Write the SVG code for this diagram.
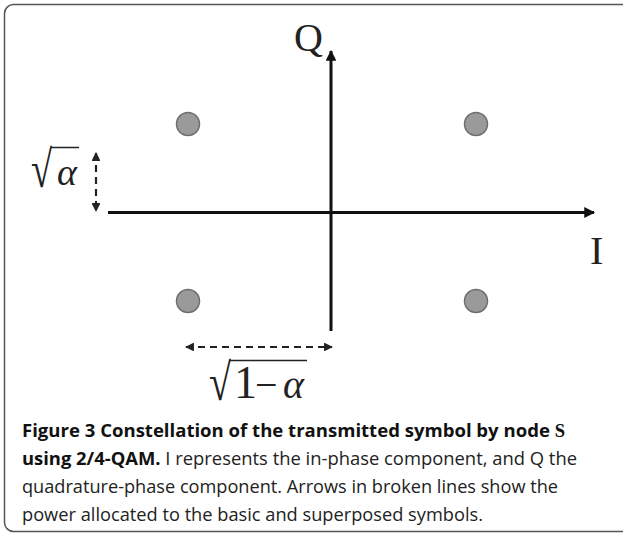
<svg xmlns="http://www.w3.org/2000/svg" width="623" height="537" viewBox="0 0 623 537">
<style>
.axis{stroke:#111;stroke-width:3;fill:none}
.dash{stroke:#222;stroke-width:2.2;stroke-dasharray:7 5;fill:none}
.dot{fill:#9a9a9a;stroke:#6e6e6e;stroke-width:1.5}
.serif{font-family:"Liberation Serif","Times New Roman",serif;fill:#222}
.cap{font-family:"Open Sans","Noto Sans",sans-serif;font-size:18px;fill:#222}
.b{font-weight:bold;fill:#111}
.sS{font-family:"Liberation Serif",serif;font-weight:bold}
</style>
<defs>
<marker id="ah" viewBox="0 0 10 10" refX="9" refY="5" markerWidth="4" markerHeight="3.6" orient="auto" markerUnits="strokeWidth"><path d="M0,0L10,5L0,10z" fill="#111"/></marker>
<marker id="sh" viewBox="0 0 10 10" refX="9" refY="5" markerWidth="4" markerHeight="4" orient="auto-start-reverse" markerUnits="strokeWidth"><path d="M0,0L10,5L0,10z" fill="#222"/></marker>
</defs>
<rect x="4.5" y="4.5" width="640" height="527" rx="9" fill="#fff" stroke="#555" stroke-width="1.5"/>
<g id="connectors">
<line class="axis" x1="331" y1="331" x2="331" y2="51" marker-end="url(#ah)"/>
<line class="axis" x1="108" y1="212.5" x2="594" y2="212.5" marker-end="url(#ah)"/>
<line class="dash" x1="96" y1="153" x2="96" y2="211" marker-start="url(#sh)" marker-end="url(#sh)"/>
<line class="dash" x1="186" y1="347" x2="332" y2="347" marker-start="url(#sh)" marker-end="url(#sh)"/>
</g>
<g id="dot-tl"><circle class="dot" cx="188" cy="124" r="11.5"/></g>
<g id="dot-tr"><circle class="dot" cx="476" cy="124" r="11.5"/></g>
<g id="dot-bl"><circle class="dot" cx="188" cy="301" r="11.5"/></g>
<g id="dot-br"><circle class="dot" cx="476" cy="301" r="11.5"/></g>
<g id="label-Q"><text class="serif" x="294" y="51" font-size="40">Q</text></g>
<g id="label-I"><text class="serif" x="590" y="264" font-size="40">I</text></g>
<g id="label-sqrt-alpha">
<text class="serif" transform="translate(31,187) scale(0.74,1)" font-size="52">√</text>
<line x1="51" y1="147.5" x2="79" y2="147.5" stroke="#222" stroke-width="1.5"/>
<text class="serif" x="57" y="185" font-size="38" font-style="italic">α</text>
</g>
<g id="label-sqrt-1-alpha">
<text class="serif" transform="translate(209,400) scale(0.77,1)" font-size="52">√</text>
<line x1="230" y1="360.5" x2="307" y2="360.5" stroke="#222" stroke-width="1.5"/>
<text class="serif" x="234" y="398" font-size="46">1<tspan x="255" font-size="40">−</tspan><tspan x="283" font-size="40" font-style="italic">α</tspan></text>
</g>
<g id="caption">
<text class="cap b" x="22" y="437" textLength="543" lengthAdjust="spacingAndGlyphs">Figure 3 Constellation of the transmitted symbol by node <tspan class="sS">S</tspan></text>
<text class="cap" x="22" y="465" textLength="555" lengthAdjust="spacingAndGlyphs"><tspan class="b">using 2/4-QAM.</tspan> I represents the in-phase component, and Q the</text>
<text class="cap" x="22" y="493" textLength="536" lengthAdjust="spacingAndGlyphs">quadrature-phase component. Arrows in broken lines show the</text>
<text class="cap" x="22" y="521" textLength="461" lengthAdjust="spacingAndGlyphs">power allocated to the basic and superposed symbols.</text>
</g>
</svg>
